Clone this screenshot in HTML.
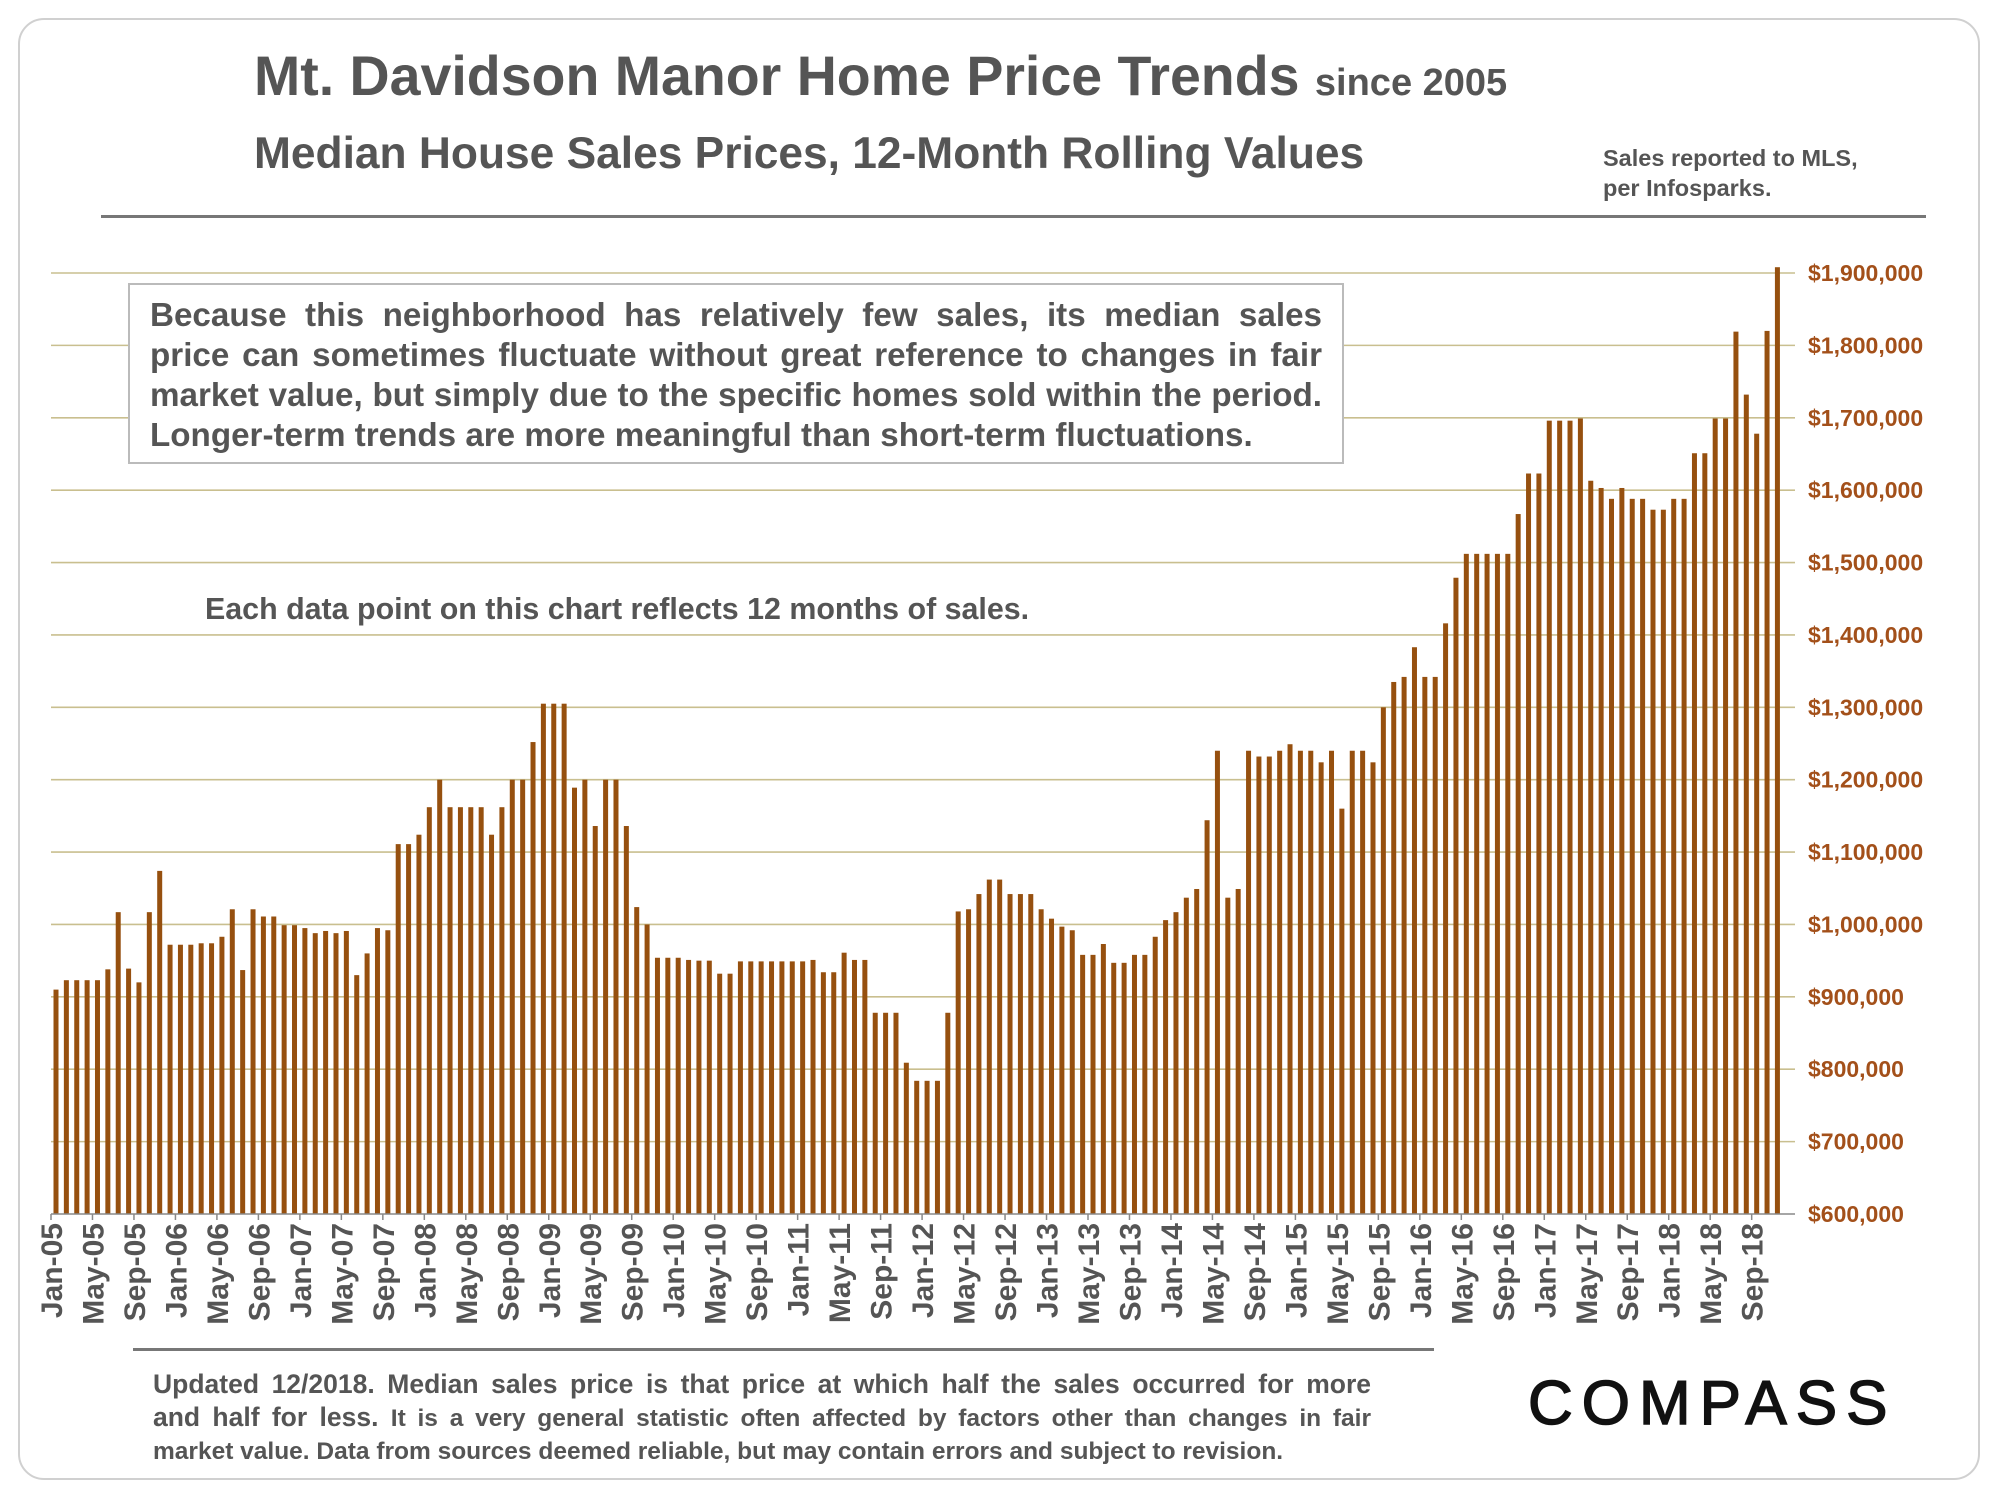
<!DOCTYPE html>
<html><head><meta charset="utf-8"><style>
html,body{margin:0;padding:0;background:#fff;}
body{width:2000px;height:1500px;position:relative;overflow:hidden;font-family:"Liberation Sans",Arial,sans-serif;}
.abs{position:absolute;}
.jl{text-align:justify;text-align-last:justify;white-space:nowrap;}
.ll{text-align:left;white-space:nowrap;}
</style></head><body>
<div class="abs" style="left:18px;top:18px;width:1962px;height:1462px;border:2px solid #d0d0d0;border-radius:26px;box-sizing:border-box;"></div>
<div class="abs" style="left:254px;top:44px;font-size:55.5px;font-weight:bold;color:#555;white-space:nowrap;">Mt. Davidson Manor Home Price Trends <span style="font-size:38px;">since 2005</span></div>
<div class="abs" style="left:254px;top:129px;font-size:44.3px;font-weight:bold;color:#555;white-space:nowrap;">Median House Sales Prices, 12-Month Rolling Values</div>
<div class="abs" style="left:1603px;top:143px;font-size:23.5px;font-weight:bold;color:#555;line-height:30px;">Sales reported to MLS,<br>per Infosparks.</div>
<div class="abs" style="left:101px;top:215px;width:1825px;height:3px;background:#777;"></div>
<svg class="abs" id="chart" style="left:0;top:0" width="2000" height="1500"></svg>
<div class="abs" style="left:128px;top:283px;width:1216px;height:181px;border:2px solid #bbb;box-sizing:border-box;background:#fff;padding:11px 20px 0 20px;font-size:33.2px;font-weight:bold;color:#555;line-height:40px;">
<div class="jl">Because this neighborhood has relatively few sales, its median sales</div>
<div class="jl">price can sometimes fluctuate without great reference to changes in fair</div>
<div class="jl">market value, but simply due to the specific homes sold within the period.</div>
<div class="ll">Longer-term trends are more meaningful than short-term fluctuations.</div>
</div>
<div class="abs" style="left:205px;top:592px;font-size:30.4px;font-weight:bold;color:#555;white-space:nowrap;">Each data point on this chart reflects 12 months of sales.</div>
<div class="abs" style="left:133px;top:1348px;width:1301px;height:3px;background:#777;"></div>
<div class="abs" style="left:153px;top:1368px;width:1218px;font-size:26.5px;font-weight:bold;color:#555;line-height:33px;">
<div class="jl">Updated 12/2018. Median sales price is that price at which half the sales occurred for more</div>
<div class="jl">and half for less. <span style="font-size:24.5px">It is a very general statistic often affected by factors other than changes in fair</span></div>
<div class="ll" style="font-size:24.5px">market value. Data from sources deemed reliable, but may contain errors and subject to revision.</div>
</div>
<div class="abs" style="left:1528px;top:1368px;font-size:62px;letter-spacing:9px;color:#111;white-space:nowrap;-webkit-text-stroke:1.5px #111;">COMPASS</div>
<script>
const categories=[];
const monthNames=["Jan","Feb","Mar","Apr","May","Jun","Jul","Aug","Sep","Oct","Nov","Dec"];
for(let y=5;y<=18;y++){for(let m=0;m<12;m++){categories.push(monthNames[m]+"-"+(y<10?"0"+y:y));}}
const medianPrice=[
0.910,0.923,0.923,0.923,0.923,0.938,1.017,0.939,0.920,1.017,1.074,0.972,
0.972,0.972,0.974,0.974,0.983,1.021,0.937,1.021,1.011,1.011,0.999,0.999,
0.995,0.988,0.991,0.988,0.991,0.930,0.960,0.995,0.992,1.111,1.111,1.124,
1.162,1.200,1.162,1.162,1.162,1.162,1.124,1.162,1.200,1.200,1.252,1.305,
1.305,1.305,1.189,1.200,1.136,1.200,1.200,1.136,1.024,1.000,0.954,0.954,
0.954,0.951,0.950,0.950,0.932,0.932,0.949,0.949,0.949,0.949,0.949,0.949,
0.949,0.951,0.934,0.934,0.961,0.951,0.951,0.878,0.878,0.878,0.809,0.784,
0.784,0.784,0.878,1.018,1.021,1.042,1.062,1.062,1.042,1.042,1.042,1.021,
1.008,0.997,0.992,0.958,0.958,0.973,0.947,0.947,0.958,0.958,0.983,1.006,
1.017,1.037,1.049,1.144,1.240,1.037,1.049,1.240,1.232,1.232,1.240,1.249,
1.240,1.240,1.224,1.240,1.160,1.240,1.240,1.224,1.300,1.335,1.342,1.383,
1.342,1.342,1.416,1.479,1.512,1.512,1.512,1.512,1.512,1.567,1.623,1.623,
1.696,1.696,1.696,1.699,1.613,1.603,1.588,1.603,1.588,1.588,1.573,1.573,
1.588,1.588,1.651,1.651,1.699,1.699,1.819,1.732,1.678,1.820,1.908];
const yTicks=[600000,700000,800000,900000,1000000,1100000,1200000,1300000,1400000,1500000,1600000,1700000,1800000,1900000];
const yTickLabels=["$600,000","$700,000","$800,000","$900,000","$1,000,000","$1,100,000","$1,200,000","$1,300,000","$1,400,000","$1,500,000","$1,600,000","$1,700,000","$1,800,000","$1,900,000"];
const NS="http://www.w3.org/2000/svg";
const svg=document.getElementById("chart");
const plotL=51,plotR=1795,yMin=600000,yMax=1900000,yBottom=1214,yTop=273;
const x0=56,step=10.37,barW=5;
function yScale(v){return yBottom-(v-yMin)/(yMax-yMin)*(yBottom-yTop);}
function xScale(i){return x0+i*step;}
function mk(tag,attrs){const e=document.createElementNS(NS,tag);for(const k in attrs)e.setAttribute(k,attrs[k]);svg.appendChild(e);return e;}
yTicks.forEach((t,i)=>{
  const y=yScale(t);
  if(i>0){const g=mk("line",{x1:plotL,x2:plotR,y1:y,y2:y,stroke:"#c9bf8f","stroke-width":1.6});
  
  }
  const tx=mk("text",{x:1808,y:y+8,"font-size":23,"font-weight":"bold",fill:"#a3501a","font-family":"Liberation Sans, Arial, sans-serif"});
  tx.textContent=yTickLabels[i];
  
  
});
medianPrice.forEach((v,i)=>{
  const y=yScale(v*1000000);
  const r=mk("rect",{x:xScale(i)-barW/2,y:y,width:barW,height:yBottom-y,fill:"#96500f"});
  
  
});
const ax=mk("line",{x1:plotL,x2:plotR,y1:yBottom,y2:yBottom,stroke:"#888","stroke-width":1.5});


for(let i=0;i<medianPrice.length;i+=4){
  const tx0=xScale(i)-5;
  const tk=mk("line",{x1:tx0,x2:tx0,y1:yBottom,y2:yBottom+6,stroke:"#888","stroke-width":1.5});
  
  
  const lx=xScale(i)+6,ly=yBottom+9;
  const t=mk("text",{x:lx,y:ly,"font-size":30,"font-weight":"bold",fill:"#555","text-anchor":"end","font-family":"Liberation Sans, Arial, sans-serif",transform:"rotate(-90 "+lx+" "+ly+")"});
  t.textContent=categories[i];
  
  
}
</script>
</body></html>
